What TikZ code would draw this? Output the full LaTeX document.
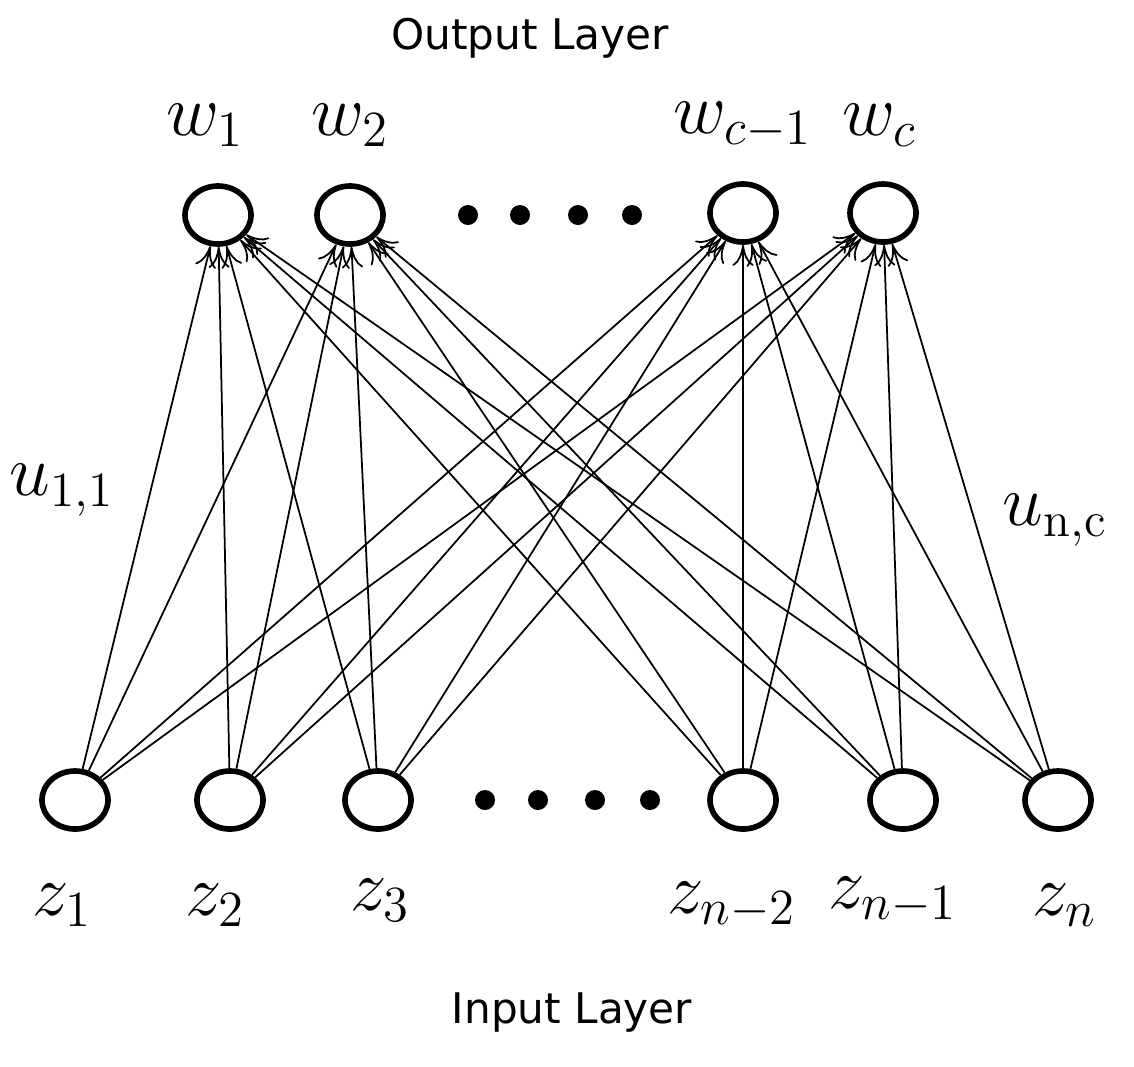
\documentclass[tikz,border=0pt]{standalone}
\usepackage{fontspec}
\newfontfamily\sansf{DejaVu Sans}
\usetikzlibrary{arrows.meta,shapes.geometric}
\begin{document}
\begin{tikzpicture}[x=0.01cm,y=-0.01cm,
  neu/.style={draw,line width=1.6pt,ellipse,minimum width=0.66cm,minimum height=0.58cm,inner sep=0pt},
  edge/.style={line width=0.5pt,-{To[length=6pt,width=6pt]}},
  dot/.style={fill,circle,inner sep=0pt,minimum size=0.2cm},
  lab/.style={font=\fontsize{20}{24}\selectfont},
  ttl/.style={font=\sansf\fontsize{12}{14}\selectfont}]
\useasboundingbox (0,0) rectangle (1134,1066);
\node[neu] (w1) at (218,215) {};
\node[neu] (w2) at (350,215) {};
\node[neu] (w3) at (743,213) {};
\node[neu] (w4) at (883,213) {};
\node[neu] (z1) at (75,800) {};
\node[neu] (z2) at (230,800) {};
\node[neu] (z3) at (378,800) {};
\node[neu] (z4) at (743,800) {};
\node[neu] (z5) at (903,800) {};
\node[neu] (z6) at (1058,800) {};
\foreach \x [count=\i] in {468,520,578,632} \node[dot] (td\i) at (\x,215) {};
\foreach \x [count=\i] in {485,538,595,650} \node[dot] (bd\i) at (\x,800) {};
\foreach \z in {1,...,6} \foreach \w in {1,...,4} \draw[edge] (z\z) -- (w\w);
\node[ttl] (ot) at (530,38) {Output Layer};
\node[ttl] (it) at (572,1012) {Input Layer};
\node[lab] (lw1) at (205,125) {$w_1$};
\node[lab] (lw2) at (350,125) {$w_2$};
\node[lab] (lw3) at (743,125) {$w_{c-1}$};
\node[lab] (lw4) at (880,125) {$w_c$};
\node[lab] (lz1) at (62,905) {$z_1$};
\node[lab] (lz2) at (215,905) {$z_2$};
\node[lab] (lz3) at (380,900) {$z_3$};
\node[lab] (lz4) at (732,905) {$z_{n-2}$};
\node[lab] (lz5) at (893,900) {$z_{n-1}$};
\node[lab] (lz6) at (1065,905) {$z_n$};
\node[lab] (u1) at (62,490) {$u_{\mathrm{1,1}}$};
\node[lab] (u2) at (1055,520) {$u_{\mathrm{n,c}}$};
\end{tikzpicture}
\end{document}
